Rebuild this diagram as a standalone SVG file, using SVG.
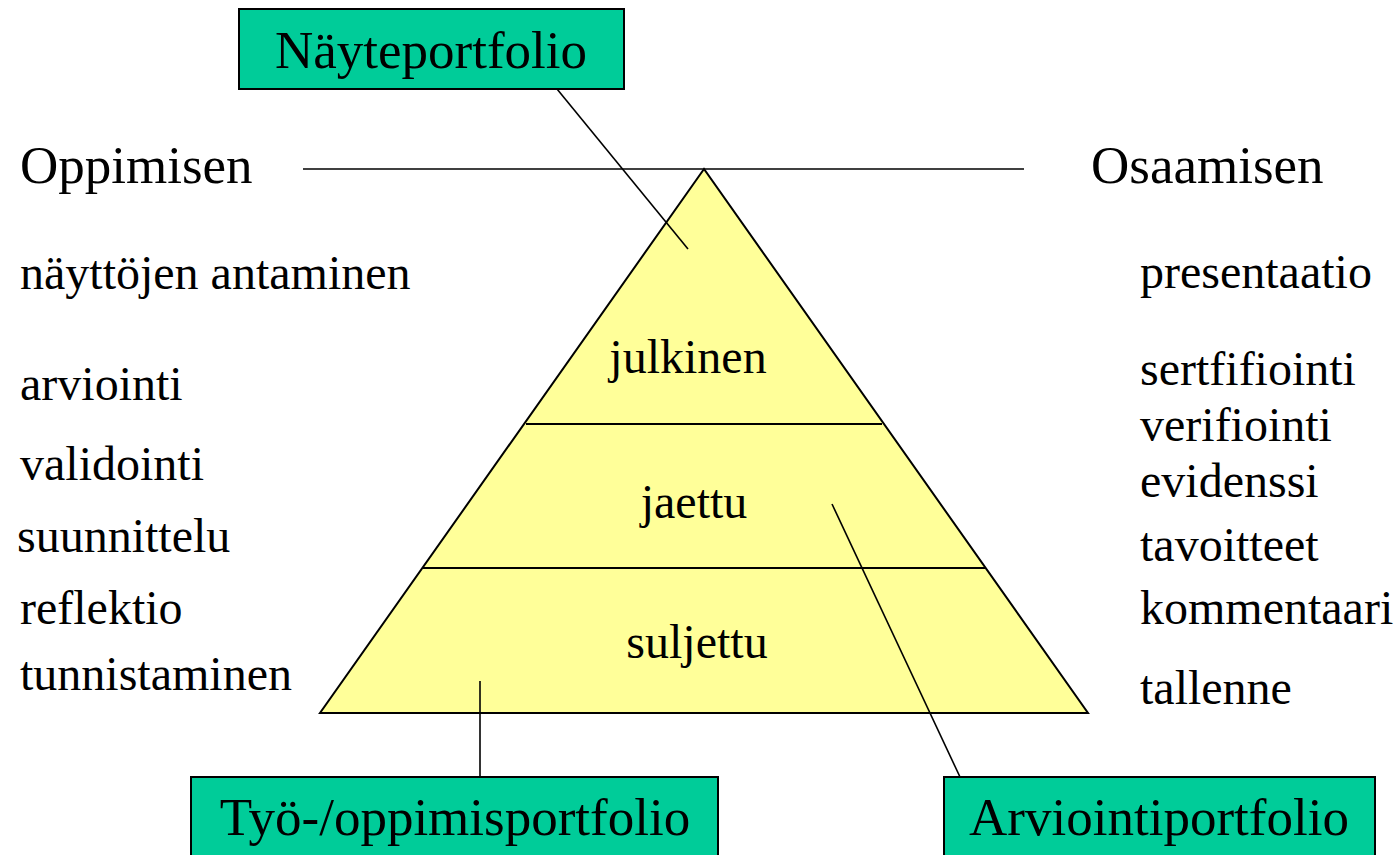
<svg xmlns="http://www.w3.org/2000/svg" width="1397" height="855" viewBox="0 0 1397 855">
<style>
text{font-family:"Liberation Serif","Times New Roman",serif;fill:#000}
.big{font-size:53px}
.lst{font-size:48px}
.box{fill:#00CC99;stroke:#000;stroke-width:2}
.ln{stroke:#000;stroke-width:1.6;fill:none}
.mid{text-anchor:middle}
</style>
<rect width="1397" height="855" fill="#fff"/>
<g id="pyramid">
<polygon points="704,169 320,713 1088,713" fill="#FFFF99" stroke="#000" stroke-width="2"/>
<line x1="526" y1="424" x2="882" y2="424" stroke="#000" stroke-width="2"/>
<line x1="423" y1="568" x2="985" y2="568" stroke="#000" stroke-width="2"/>
<text class="lst mid" x="688" y="373">julkinen</text>
<text class="lst mid" x="694" y="518">jaettu</text>
<text class="lst mid" x="697" y="658">suljettu</text>
</g>
<g id="connectors">
<line class="ln" x1="303" y1="169" x2="1024" y2="169"/>
<line class="ln" x1="557" y1="89" x2="688" y2="249"/>
<line class="ln" x1="832" y1="504" x2="960" y2="777"/>
<line class="ln" x1="480" y1="681" x2="480" y2="777"/>
</g>
<g id="naytep">
<rect class="box" x="239" y="9" width="385" height="80"/>
<text class="big mid" x="431" y="68">Näyteportfolio</text>
</g>
<g id="tyo">
<rect class="box" x="191" y="777" width="527" height="90"/>
<text class="big mid" x="455" y="835">Työ-/oppimisportfolio</text>
</g>
<g id="arvio">
<rect class="box" x="944" y="777" width="431" height="90"/>
<text class="big mid" x="1159" y="835">Arviointiportfolio</text>
</g>
<g id="left">
<text class="big" x="20" y="183">Oppimisen</text>
<text class="lst" x="20" y="289">näyttöjen antaminen</text>
<text class="lst" x="20" y="400">arviointi</text>
<text class="lst" x="20" y="480">validointi</text>
<text class="lst" x="17" y="552">suunnittelu</text>
<text class="lst" x="20" y="624">reflektio</text>
<text class="lst" x="20" y="690">tunnistaminen</text>
</g>
<g id="right">
<text class="big" x="1091" y="183">Osaamisen</text>
<text class="lst" x="1140" y="288">presentaatio</text>
<text class="lst" x="1140" y="385">sertfifiointi</text>
<text class="lst" x="1140" y="441">verifiointi</text>
<text class="lst" x="1140" y="497">evidenssi</text>
<text class="lst" x="1140" y="561">tavoitteet</text>
<text class="lst" x="1140" y="624">kommentaari</text>
<text class="lst" x="1140" y="704">tallenne</text>
</g>
</svg>
